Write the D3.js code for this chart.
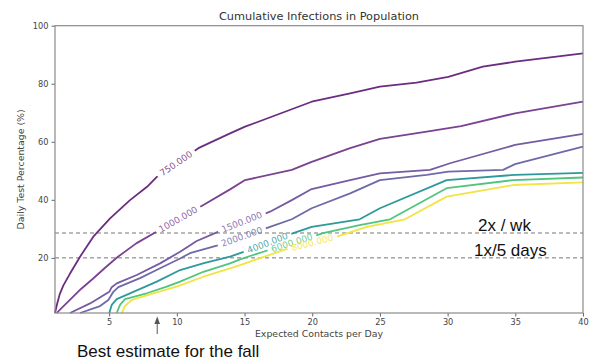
<!DOCTYPE html>
<html>
<head>
<meta charset="utf-8">
<script src="https://cdn.jsdelivr.net/npm/d3@7"></script>
<style>
  html, body { margin: 0; padding: 0; background: #fff; }
  svg { display: block; }
</style>
</head>
<body>
<svg id="chart" width="591" height="360"></svg>
<script>
// ---- data ----
const levelLabels = ["750.000", "1000.000", "1500.000", "2000.000", "4000.000", "6000.000", "8000.000"];
const c750 = [[1.0,1],[1.15,4],[1.35,7.5],[1.62,10.5],[2.1,14.5],[2.85,20.4],[3.83,27.3],[5.07,33.6],[6.54,39.9],[7.8,44.5],[8.52,47.9],[11.59,57.8],[13.93,62.9],[15.04,65.2],[19.96,73.8],[22.8,76.7],[25.0,79.0],[27.7,80.4],[30.05,82.4],[32.6,85.9],[35.0,87.6],[40,90.5]];
const c1000 = [[1.13,1],[1.5,2.8],[2.1,5.5],[2.9,9.2],[3.8,12.8],[4.7,16.6],[5.6,20.2],[7.0,25],[8.5,29.0],[10.2,33.5],[11.96,38.2],[13.93,43.6],[15.04,46.8],[18.49,50.3],[19.96,53.1],[22.8,57.8],[25.0,61.0],[28.46,63.5],[31.0,65.4],[34.98,69.8],[40,73.8]];
const c1500 = [[2.11,1],[3.59,4.3],[5.01,8.3],[5.19,9.9],[5.56,11.2],[7.04,14.1],[8.76,18.1],[10.24,22.1],[11.47,25.8],[12.95,28.8],[14.9,32.5],[16.88,35.9],[18.49,39.9],[19.96,43.7],[22.8,46.8],[25.0,49.1],[28.7,50.3],[30.18,52.6],[34.98,58.9],[40,62.7]];
const c2000 = [[2.85,1],[4.33,3.4],[4.94,5.5],[5.31,8.3],[5.68,9.9],[7.28,13.0],[8.76,16.4],[10.24,19.8],[10.97,21.6],[12.95,24.2],[14.9,27.4],[16.88,30.7],[18.49,33.3],[19.96,37.1],[22.8,42.2],[25.0,46.8],[28.46,48.6],[30.05,49.7],[34.1,50.3],[34.98,52.3],[40,58.3]];
const c4000 = [[5.01,1],[5.19,3.8],[5.56,5.8],[6.79,8.3],[8.52,11.8],[10.24,15.8],[12.0,18.2],[13.93,20.4],[14.67,21.6],[16.7,25.1],[18.6,28.5],[19.96,30.7],[23.5,33.3],[25.0,37.1],[29.93,46.8],[34.98,48.6],[40,49.3]];
const c6000 = [[5.56,1],[5.8,3.8],[6.17,5.8],[7.78,7.8],[9.25,10.1],[10.24,11.8],[11.96,15.2],[13.93,18.1],[14.67,19.5],[16.39,22.1],[18.6,25.3],[20.8,28.5],[23.5,31.3],[25.75,33.3],[29.93,44.0],[34.85,46.8],[40,47.7]];
const c8000 = [[5.93,1],[6.17,3.4],[6.67,5.5],[8.26,7.8],[9.99,10.1],[11.96,13.5],[13.93,16.4],[14.67,17.5],[17.87,22.7],[20.0,25.2],[21.93,27.5],[24.03,30.7],[26.85,33.3],[29.93,41.1],[34.85,45.1],[40,46.0]];
const curves = [c750, c1000, c1500, c2000, c4000, c6000, c8000];
const labelX = [9.95, 10.1, 14.8, 14.8, 16.7, 18.5, 20.0];
const xTicks = [5, 10, 15, 20, 25, 30, 35, 40];
const yTicks = [20, 40, 60, 80, 100];
const refRates = [100 * 2 / 7, 20];
const refLabels = ["2x / wk", "1x/5 days"];
const bestEstimateX = 8.55;

// ---- styling ----
const colors = ["#6b2d7f", "#7a4290", "#765aa2", "#6e6aa8", "#2e999b", "#50c57e", "#f2e443"];

const svg = d3.select("#chart");
const x = d3.scaleLinear().domain([1, 40]).range([55, 583]);
const y = d3.scaleLinear().domain([1, 100]).range([313, 25.7]);
const FONT = "DejaVu Sans, sans-serif";

// axes
const xAxis = d3.axisBottom(x).tickValues(xTicks).tickSize(3.5).tickPadding(2.5);
const gx = svg.append("g").attr("transform", `translate(0,${y.range()[0]})`).call(xAxis);
const yAxis = d3.axisLeft(y).tickValues(yTicks).tickSize(3.5).tickPadding(3);
const gy = svg.append("g").attr("transform", `translate(${x.range()[0]},0)`).call(yAxis);
[gx, gy].forEach(g => {
  g.select(".domain").remove();
  g.selectAll(".tick line").attr("stroke", "#666").attr("stroke-width", 1);
  g.selectAll(".tick text").attr("fill", "#444").style("font-family", FONT).style("font-size", "8.2px");
});

// reference dashed lines
svg.append("g").selectAll("line").data(refRates).join("line")
  .attr("x1", x.range()[0]).attr("x2", x.range()[1])
  .attr("y1", d => y(d)).attr("y2", d => y(d))
  .attr("stroke", "#777").attr("stroke-width", 1).attr("stroke-dasharray", "4,3");

// contour lines
const line = d3.line().x(d => x(d[0])).y(d => y(d[1]));
const gLines = svg.append("g");
const gLabels = svg.append("g");
curves.forEach((c, i) => {
  const path = gLines.append("path").attr("d", line(c))
    .attr("fill", "none").attr("stroke", colors[i]).attr("stroke-width", 1.8)
    .attr("stroke-linejoin", "round");
  const node = path.node();
  const total = node.getTotalLength();
  const tx = x(labelX[i]);
  let lo = 0, hi = total;
  for (let k = 0; k < 40; k++) {
    const mid = (lo + hi) / 2;
    if (node.getPointAtLength(mid).x < tx) lo = mid; else hi = mid;
  }
  const s = (lo + hi) / 2;
  const t = gLabels.append("text").text(levelLabels[i])
    .style("font-family", FONT).style("font-size", "9px")
    .attr("fill", colors[i]).attr("fill-opacity", 0.85)
    .attr("text-anchor", "middle").attr("dominant-baseline", "central");
  const w = t.node().getComputedTextLength();
  const p1 = node.getPointAtLength(Math.max(0, s - w / 2));
  const p2 = node.getPointAtLength(Math.min(total, s + w / 2));
  const ang = Math.atan2(p2.y - p1.y, p2.x - p1.x) * 180 / Math.PI;
  const pc = node.getPointAtLength(s);
  t.attr("transform", `translate(${pc.x},${pc.y}) rotate(${ang})`);
  const gap = w + 8;
  path.attr("stroke-dasharray", `${Math.max(0, s - gap / 2)} ${gap} ${total}`);
});

// frame
svg.append("rect")
  .attr("x", x.range()[0]).attr("y", y.range()[1])
  .attr("width", x.range()[1] - x.range()[0]).attr("height", y.range()[0] - y.range()[1])
  .attr("fill", "none").attr("stroke", "#8a8a8a").attr("stroke-width", 1.2);

// title and axis labels
svg.append("text").text("Cumulative Infections in Population")
  .attr("x", (x.range()[0] + x.range()[1]) / 2).attr("y", 16)
  .attr("text-anchor", "middle").attr("dominant-baseline", "central")
  .style("font-family", FONT).style("font-size", "11.3px").attr("fill", "#333");
svg.append("text").text("Expected Contacts per Day")
  .attr("x", (x.range()[0] + x.range()[1]) / 2).attr("y", 333)
  .attr("text-anchor", "middle").attr("dominant-baseline", "central")
  .style("font-family", FONT).style("font-size", "9.4px").attr("fill", "#444");
svg.append("text").text("Daily Test Percentage (%)")
  .attr("transform", `translate(20,${(y.range()[0] + y.range()[1]) / 2}) rotate(-90)`)
  .attr("text-anchor", "middle").attr("dominant-baseline", "central")
  .style("font-family", FONT).style("font-size", "9.4px").attr("fill", "#444");

// reference line annotations
const ANN = "Liberation Sans, Arial, sans-serif";
svg.append("g").selectAll("text").data(refRates).join("text")
  .text((d, i) => refLabels[i])
  .attr("x", (d, i) => i === 0 ? 478 : 474)
  .attr("y", d => y(d) - 2.3)
  .style("font-family", ANN).style("font-size", "17px").attr("fill", "#111");

// best-estimate arrow
const ax = x(bestEstimateX);
svg.append("line").attr("x1", ax).attr("x2", ax).attr("y1", 334).attr("y2", 322)
  .attr("stroke", "#555").attr("stroke-width", 1);
svg.append("path").attr("d", `M${ax},316.5 L${ax - 2.8},324 L${ax + 2.8},324 Z`).attr("fill", "#555");
svg.append("text").text("Best estimate for the fall")
  .attr("x", 77).attr("y", 357.3)
  .style("font-family", ANN).style("font-size", "17px").attr("fill", "#111");
</script>
</body>
</html>
